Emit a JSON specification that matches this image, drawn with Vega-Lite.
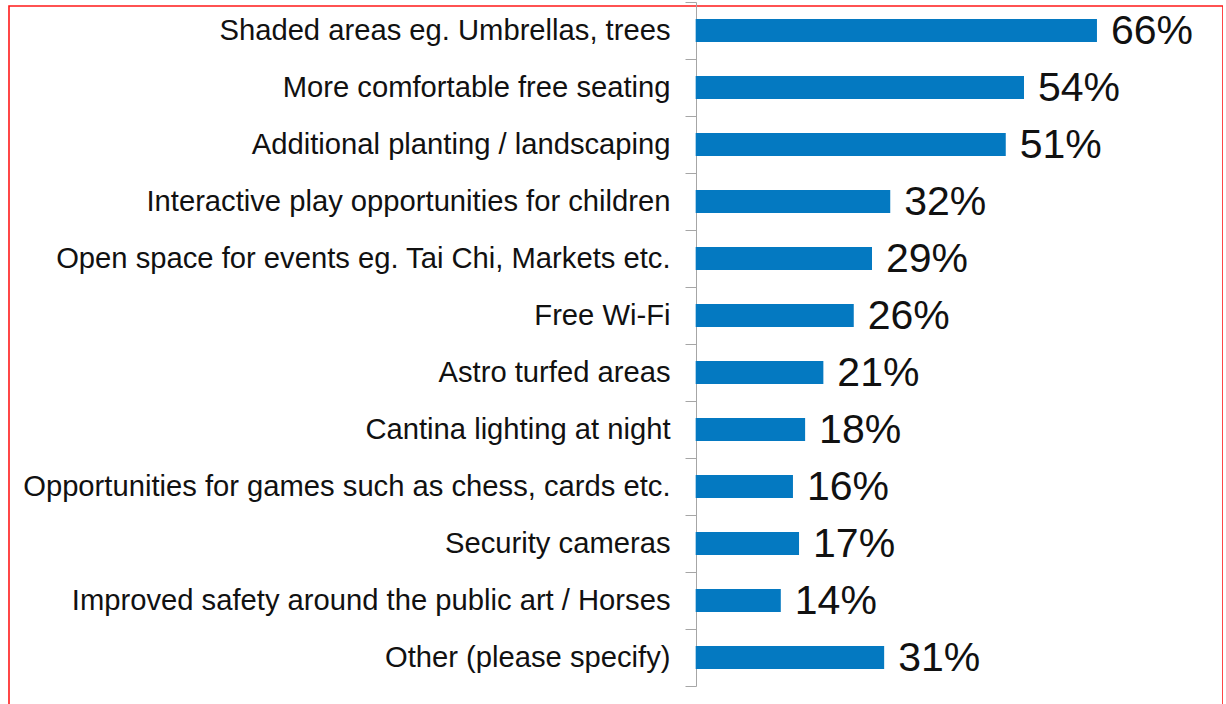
{
  "$schema": "https://vega.github.io/schema/vega-lite/v6.json",
  "width": 1214,
  "height": 700,
  "autosize": {"type": "none"},
  "padding": {"left": 9, "top": 6, "right": 0, "bottom": 0},
  "background": "white",
  "config": {
    "view": {"stroke": "#ff1a1a", "strokeWidth": 1.6},
    "font": "Liberation Sans"
  },
  "data": {
    "values": [
      {"item": "Shaded areas eg. Umbrellas, trees", "pct": 0.66},
      {"item": "More comfortable free seating", "pct": 0.54},
      {"item": "Additional planting / landscaping", "pct": 0.51},
      {"item": "Interactive play opportunities for children", "pct": 0.32},
      {"item": "Open space for events eg. Tai Chi, Markets etc.", "pct": 0.29},
      {"item": "Free Wi-Fi", "pct": 0.26},
      {"item": "Astro turfed areas", "pct": 0.21},
      {"item": "Cantina lighting at night", "pct": 0.18},
      {"item": "Opportunities for games such as chess, cards etc.", "pct": 0.16},
      {"item": "Security cameras", "pct": 0.17},
      {"item": "Improved safety around the public art / Horses", "pct": 0.14},
      {"item": "Other (please specify)", "pct": 0.31}
    ]
  },
  "encoding": {
    "y": {
      "field": "item",
      "type": "nominal",
      "sort": null,
      "scale": {"range": [-4, 680], "paddingInner": 0, "paddingOuter": 0},
      "axis": {
        "title": null,
        "orient": "left",
        "offset": -687,
        "tickBand": "extent",
        "tickSize": 11,
        "tickColor": "#a6a6a6",
        "domainColor": "#a6a6a6",
        "labelPadding": 15,
        "labelFontSize": 29.2,
        "labelColor": "#111111",
        "labelLimit": 900,
        "labelFont": "Liberation Sans"
      }
    },
    "x": {
      "field": "pct",
      "type": "quantitative",
      "scale": {"domain": [-1.1294, 0.8673], "nice": false, "zero": false},
      "axis": null
    }
  },
  "layer": [
    {"mark": {"type": "bar", "color": "#0479C1", "height": {"band": 0.4}}},
    {
      "mark": {"type": "text", "align": "left", "baseline": "middle", "dx": 14, "dy": 1.5, "fontSize": 41, "color": "#111111", "font": "Liberation Sans"},
      "encoding": {"text": {"field": "pct", "type": "quantitative", "format": ".0%"}}
    }
  ]
}
